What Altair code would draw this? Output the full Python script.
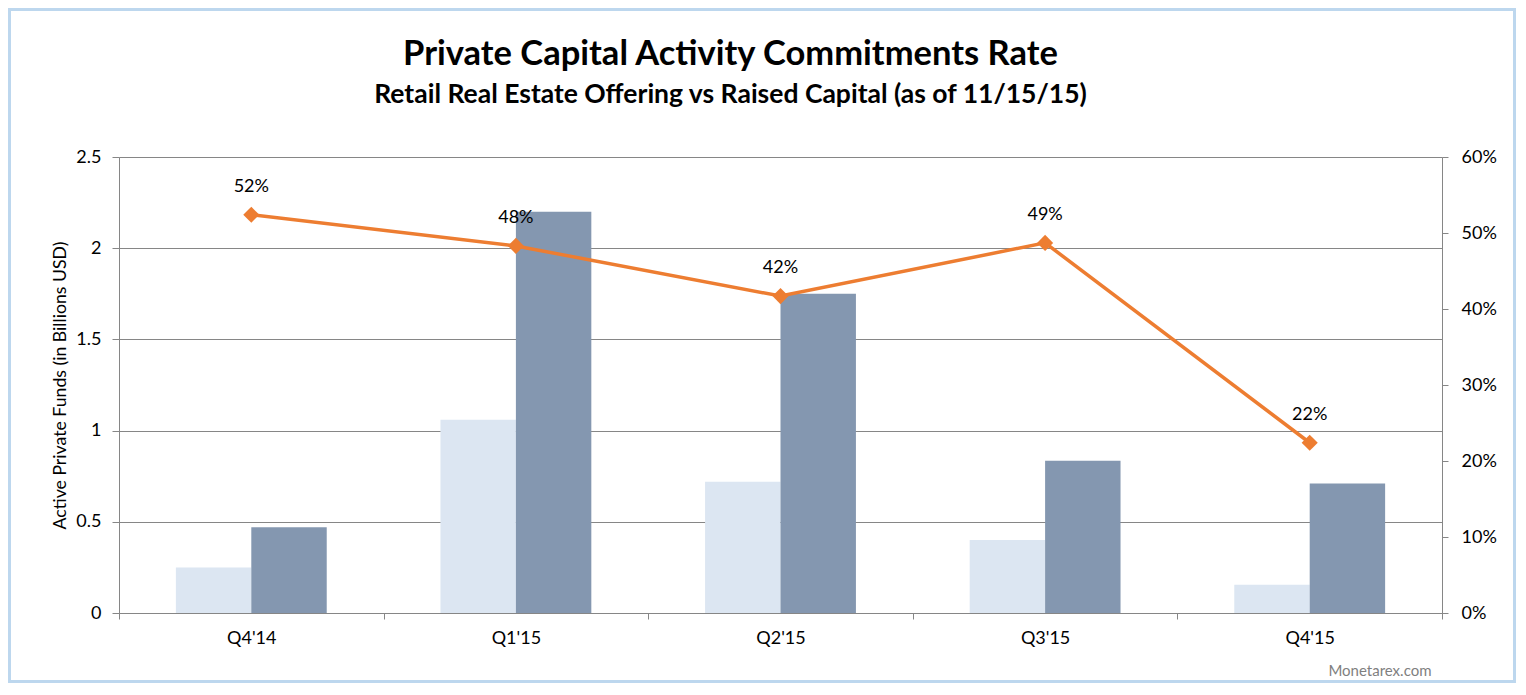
import altair as alt
import pandas as pd

quarters = ["Q4'14", "Q1'15", "Q2'15", "Q3'15", "Q4'15"]
raised = [0.25, 1.06, 0.72, 0.40, 0.155]
offering = [0.47, 2.20, 1.75, 0.835, 0.71]
rate = [0.524, 0.483, 0.417, 0.487, 0.224]
series_names = ["Raised Capital", "Offering"]
series_colors = ["#dce6f2", "#8497b0"]

FONT = "Lato"
GRID = "#868686"

rows = []
for q, r, o in zip(quarters, raised, offering):
    rows.append({"quarter": q, "series": series_names[0], "value": r})
    rows.append({"quarter": q, "series": series_names[1], "value": o})
df_bars = pd.DataFrame(rows)
df_rate = pd.DataFrame({"quarter": quarters, "rate": rate})
df_border = pd.DataFrame({"a": [0]})

W, H = 1323, 456
PL, PT, PR, PB = 111, 149, 74, 70

x_enc = alt.X(
    "quarter:N",
    sort=quarters,
    scale=alt.Scale(paddingInner=0, paddingOuter=0),
    axis=alt.Axis(
        title="Monetarex.com",
        titleFont=FONT,
        titleFontSize=15,
        titleFontWeight="normal",
        titleColor="#7f7f7f",
        titleAlign="right",
        titleBaseline="alphabetic",
        titleX=W - 11,
        titleY=62,
        labelAngle=0,
        labelFont=FONT,
        labelFontSize=18,
        labelColor="#000000",
        labelPadding=10,
        tickBand="extent",
        tickSize=6,
        tickColor=GRID,
        domainColor=GRID,
        grid=False,
    ),
)

bars = alt.Chart(df_bars).mark_bar().encode(
    x=x_enc,
    xOffset=alt.XOffset(
        "series:N",
        sort=series_names,
        scale=alt.Scale(paddingInner=0, paddingOuter=0.754),
    ),
    y=alt.Y(
        "value:Q",
        scale=alt.Scale(domain=[0, 2.5], nice=False),
        axis=alt.Axis(
            values=[0, 0.5, 1, 1.5, 2, 2.5],
            format="~g",
            title="Active Private Funds (in Billions USD)",
            titleFont=FONT,
            titleFontSize=17.7,
            titleFontWeight="normal",
            titleColor="#000000",
            titlePadding=6,
            labelFont=FONT,
            labelFontSize=18,
            labelColor="#000000",
            labelPadding=11,
            tickSize=7,
            tickColor=GRID,
            domainColor=GRID,
            grid=True,
            gridColor=GRID,
        ),
    ),
    color=alt.Color(
        "series:N",
        scale=alt.Scale(domain=series_names, range=series_colors),
        legend=None,
    ),
)

base = alt.Chart(df_rate).encode(
    x=x_enc,
    y=alt.Y(
        "rate:Q",
        scale=alt.Scale(domain=[0, 0.6], nice=False),
        axis=alt.Axis(
            orient="right",
            values=[0, 0.1, 0.2, 0.3, 0.4, 0.5, 0.6],
            format=".0%",
            title=None,
            labelFont=FONT,
            labelFontSize=18,
            labelColor="#000000",
            labelPadding=13,
            tickSize=6,
            tickColor=GRID,
            domainColor=GRID,
            grid=False,
        ),
    ),
)
line = base.mark_line(color="#ed7d31", strokeWidth=3.5)
points = base.mark_point(shape="diamond", filled=True, size=260, color="#ed7d31", opacity=1)
labels = base.mark_text(dy=-28, font=FONT, fontSize=18, color="#000000").encode(
    text=alt.Text("rate:Q", format=".0%")
)

border = alt.Chart(df_border).mark_rect(
    filled=False, stroke="#bdd7ee", strokeWidth=3
).encode(
    x=alt.value(-PL + 1.5),
    x2=alt.value(W + PR - 1.5),
    y=alt.value(-PT + 1.5),
    y2=alt.value(H + PB - 1.5),
)

chart = (
    alt.layer(border, bars, alt.layer(line, points, labels))
    .resolve_scale(y="independent")
    .properties(
        width=W,
        height=H,
        autosize=alt.AutoSizeParams(type="none"),
        padding={"left": PL, "top": PT, "right": PR, "bottom": PB},
        title=alt.TitleParams(
            text="Private Capital Activity Commitments Rate",
            subtitle="Retail Real Estate Offering vs Raised Capital (as of 11/15/15)",
            font=FONT,
            fontSize=34.5,
            fontWeight="bold",
            color="#000000",
            subtitleFont=FONT,
            subtitleFontSize=26.5,
            subtitleFontWeight="bold",
            subtitleColor="#000000",
            subtitlePadding=9,
            anchor="middle",
            dx=-50,
            dy=145,
            offset=44,
        ),
    )
    .configure_view(stroke=None)
    .configure(background="white")
)

chart.save("out.html", embed_options={"renderer": "svg", "actions": False})
